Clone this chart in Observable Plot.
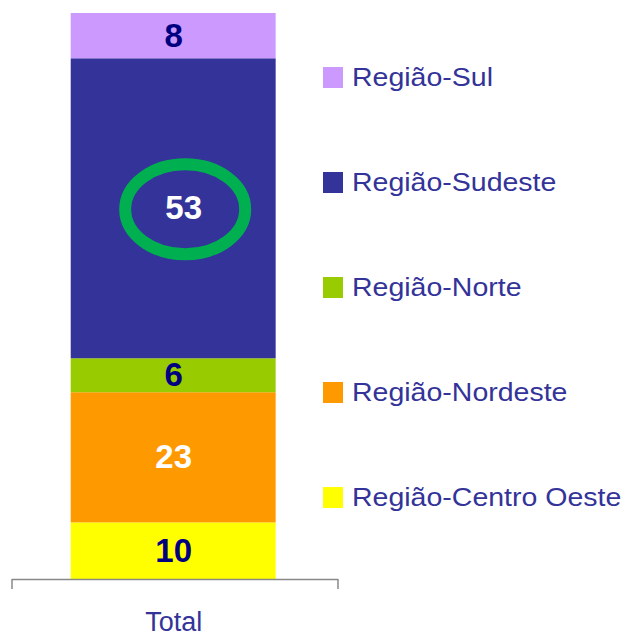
<!DOCTYPE html>
<html><head><meta charset="utf-8">
<script src="https://cdn.jsdelivr.net/npm/d3@7"></script>
<script src="https://cdn.jsdelivr.net/npm/@observablehq/plot@0.6"></script>
<style>
body{margin:0;background:#fff;font-family:Arial,"Liberation Sans",sans-serif;}
#chart{position:relative;width:630px;height:636px;overflow:hidden;}
#chart svg{position:absolute;left:0;top:0;}
.item{position:absolute;left:323px;display:flex;align-items:center;height:21px;}
.sw{width:20px;height:21px;flex:none;}
.lab{margin-left:9px;font-size:25px;color:#333399;transform:scaleX(1.14);transform-origin:left center;white-space:nowrap;line-height:21px;}
</style></head><body><div id="chart"></div>
<script>
const categories = ["Total"];
const regions = ["Região-Centro Oeste","Região-Nordeste","Região-Norte","Região-Sudeste","Região-Sul"];
const shares = [10, 23, 6, 53, 8];
const highlighted = "Região-Sudeste";

const colors = ["#FFFF00","#FF9900","#99CC00","#333399","#CC99FF"];
const labelColors = ["#000080","#FFFFFF","#000080","#FFFFFF","#000080"];

const data = regions.map((r, i) => ({category: categories[0], region: r, value: shares[i]}));

function ellipseMark(index, scales, values, dims) {
  const x = scales.x, y = scales.y;
  const bw = typeof x.bandwidth === "function" ? x.bandwidth() : 0;
  const cx0 = bw ? x(categories[0]) + bw / 2 : (dims.marginLeft + dims.width - dims.marginRight) / 2;
  const i = regions.indexOf(highlighted);
  const lo = d3.sum(shares.slice(0, i));
  const mid = lo + shares[i] / 2;
  return d3.create("svg:ellipse")
    .attr("cx", cx0 + 12).attr("cy", y(mid) + 1)
    .attr("rx", 60).attr("ry", 45)
    .attr("fill", "none").attr("stroke", "#00B050").attr("stroke-width", 12)
    .node();
}

function axisEnds(index, scales, values, dims) {
  const y0 = scales.y(0);
  const g = d3.create("svg:g").attr("stroke", "#888").attr("stroke-width", 1.5);
  [dims.marginLeft, dims.width - dims.marginRight].forEach(px =>
    g.append("line").attr("x1", px).attr("x2", px).attr("y1", y0).attr("y2", y0 + 10));
  return g.node();
}

const textMarks = regions.map((r, i) => Plot.text(data, Plot.stackY({
  x: "category", y: "value",
  text: d => d.region === r ? String(d.value) : null,
  fill: labelColors[i],
  dx: r === highlighted ? 10 : 0,
  fontSize: 33, fontWeight: "bold", fontFamily: "Arial, 'Liberation Sans', sans-serif"
})));

const plot = Plot.plot({
  width: 630, height: 636,
  marginLeft: 12, marginRight: 292, marginTop: 13, marginBottom: 57,
  style: {background: "transparent", fontFamily: "Arial, 'Liberation Sans', sans-serif", overflow: "visible"},
  x: {domain: categories, padding: 0.228, align: 0.485, round: false, label: null},
  y: {domain: [0, 100], axis: null},
  color: {domain: regions, range: colors},
  marks: [
    Plot.barY(data, {x: "category", y: "value", fill: "region"}),
    ...textMarks,
    ellipseMark,
    Plot.ruleY([0], {stroke: "#888", strokeWidth: 1.5}),
    axisEnds,
    Plot.axisX({tickSize: 0, tickPadding: 32, fontSize: 27, fill: "#333399", label: null})
  ]
});
const chart = document.getElementById("chart");
chart.appendChild(plot);

// legend (top to bottom: reverse of stack order)
const order = regions.map((r, i) => i).reverse();
order.forEach((i, k) => {
  const item = document.createElement("div");
  item.className = "item";
  item.style.top = (67 + k * 105) + "px";
  const sw = document.createElement("div");
  sw.className = "sw";
  sw.style.background = colors[i];
  const lab = document.createElement("span");
  lab.className = "lab";
  lab.textContent = regions[i];
  item.appendChild(sw); item.appendChild(lab);
  chart.appendChild(item);
});
</script></body></html>
